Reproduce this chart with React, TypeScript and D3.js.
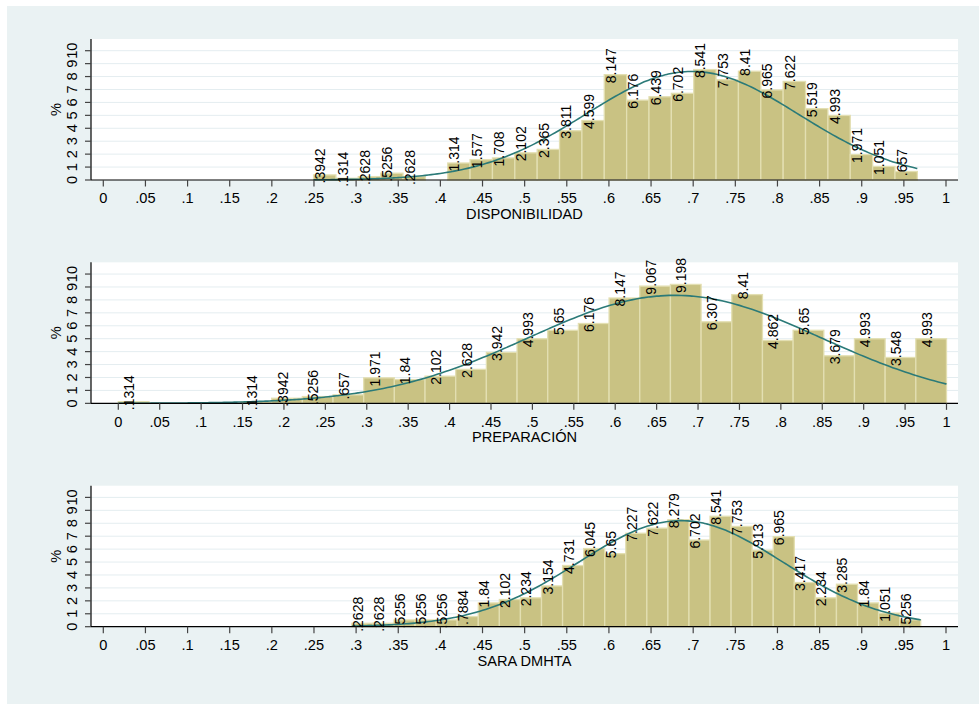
import * as React from "react"
import * as d3 from "d3"

const disponibilidad = [
    0.3942, 0.1314, 0.2628, 0.5256, 0.2628, 0, 1.314, 1.577, 1.708, 2.102, 2.365, 3.811, 4.599, 8.147,
    6.176, 6.439, 6.702, 8.541, 7.753, 8.41, 6.965, 7.622, 5.519, 4.993, 1.971, 1.051, 0.657,
]
const preparacion = [
    0.1314, 0, 0, 0, 0.1314, 0.3942, 0.5256, 0.657, 1.971, 1.84, 2.102, 2.628, 3.942, 4.993,
    5.65, 6.176, 8.147, 9.067, 9.198, 6.307, 8.41, 4.862, 5.65, 3.679, 4.993, 3.548, 4.993,
]
const sara = [
    0.2628, 0.2628, 0.5256, 0.5256, 0.5256, 0.7884, 1.84, 2.102, 2.234, 3.154, 4.731, 6.045, 5.65, 7.227,
    7.622, 8.279, 6.702, 8.541, 7.753, 5.913, 6.965, 3.417, 2.234, 3.285, 1.84, 1.051, 0.5256,
]
const series = [disponibilidad, preparacion, sara]
const titles = ["DISPONIBILIDAD", "PREPARACIÓN", "SARA DMHTA"]
// data min / max of each variable (bin range)
const lows = [0.2495, 0, 0.295]
const highs = [0.966, 1, 0.970]

const xTicks = [0, 0.05, 0.1, 0.15, 0.2, 0.25, 0.3, 0.35, 0.4, 0.45, 0.5, 0.55, 0.6, 0.65, 0.7, 0.75, 0.8, 0.85, 0.9, 0.95, 1]
const yTicks = [0, 1, 2, 3, 4, 5, 6, 7, 8, 9, 10]

const [W, H] = [979, 704]
const [plotL, plotR] = [91, 958]
const [plotTop0, zero0, step] = [39, 180, 223.35]
const xRanges: [number, number][] = [[103.3, 946], [118.3, 946.5], [103.3, 946]]
const font = "'Liberation Sans', Arial, Helvetica, sans-serif"
const fs = 14.6
const fsLab = 14
const barFill = "#c9c283"
const barLine = "#e3dfb2"
const curveColor = "#2b7a78"

const fmt = (v: number) => String(+v.toFixed(4)).replace(/^0\./, ".")

const Panel = ({ k }: { k: number }) => {
    const values = series[k]
    const [lo, hi] = [lows[k], highs[k]]
    const bw = (hi - lo) / values.length
    const top = plotTop0 + k * step
    const zero = zero0 + k * step

    const x = d3.scaleLinear().domain([0, 1]).range(xRanges[k])
    const y = d3.scaleLinear().domain([0, 10]).range([zero, zero - 129.3])

    const mids = values.map((_, i) => lo + (i + 0.5) * bw)
    const mean = d3.sum(values, (p, i) => p * mids[i]) / d3.sum(values)
    const sd = Math.sqrt(d3.sum(values, (p, i) => p * (mids[i] - mean) ** 2) / d3.sum(values))
    const dens = (v: number) => (100 * bw * Math.exp(-0.5 * ((v - mean) / sd) ** 2)) / (sd * Math.sqrt(2 * Math.PI))
    const curvePts = d3.range(0, 201).map(i => lo + (i / 200) * (hi - lo))
    const line = d3.line<number>().x(v => x(v)).y(v => y(dens(v))).curve(d3.curveBasis)

    return (
        <g>
            <rect x={plotL} y={top} width={plotR - plotL} height={zero - top} fill="white" />
            {yTicks.slice(1).map(t => (
                <line key={t} x1={plotL} x2={plotR} y1={y(t)} y2={y(t)} stroke="#e4edf0" strokeWidth={1} />
            ))}
            {values.map((p, i) =>
                p > 0 ? (
                    <rect
                        key={i}
                        x={x(lo + i * bw)}
                        y={y(p)}
                        width={x(lo + (i + 1) * bw) - x(lo + i * bw)}
                        height={zero - y(p)}
                        fill={barFill}
                        stroke={barLine}
                        strokeWidth={1.3}
                    />
                ) : null
            )}
            <path d={line(curvePts) ?? ""} fill="none" stroke={curveColor} strokeWidth={1.6} />
            {values.map((p, i) => {
                if (p <= 0) return null
                const cx = x(mids[i]) + 0.5
                const cy = y(p) - 9
                return (
                    <text key={i} transform={`translate(${cx},${cy}) rotate(-90)`} textAnchor="middle"
                        fontSize={fsLab} fontFamily={font} fill="black">
                        {fmt(p)}
                    </text>
                )
            })}
            {/* axes */}
            <line x1={plotL} x2={plotL} y1={top} y2={zero} stroke="black" strokeWidth={1.2} />
            <line x1={plotL} x2={plotR} y1={zero} y2={zero} stroke="black" strokeWidth={1.2} />
            {yTicks.map(t => (
                <g key={t}>
                    <line x1={plotL - 6} x2={plotL} y1={y(t)} y2={y(t)} stroke="#444" strokeWidth={1.2} />
                    <text transform={`translate(77,${y(t)}) rotate(-90)`} textAnchor="middle"
                        fontSize={fs} fontFamily={font} fill="black">{t}</text>
                </g>
            ))}
            <text transform={`translate(60.5,${(top + zero) / 2}) rotate(-90)`} textAnchor="middle"
                fontSize={fs} fontFamily={font} fill="black">%</text>
            {xTicks.map(t => (
                <g key={t}>
                    <line x1={x(t)} x2={x(t)} y1={zero} y2={zero + 6.5} stroke="#444" strokeWidth={1.2} />
                    <text x={x(t)} y={zero + 23.3} textAnchor="middle" fontSize={fs} fontFamily={font} fill="black">
                        {fmt(t)}
                    </text>
                </g>
            ))}
            <text x={(plotL + plotR) / 2} y={zero + 39} textAnchor="middle" fontSize={fs} fontFamily={font} fill="black">
                {titles[k]}
            </text>
        </g>
    )
}

export default function App() {
    return (
        <div style={{ position: "absolute", left: 0, top: 0 }}>
            <svg width={W} height={H} style={{ display: "block" }}>
                <rect x={0} y={0} width={W} height={H} fill="white" />
                <rect x={7} y={6} width={W - 7} height={H - 6} fill="#eaf2f3" />
                {series.map((_, k) => <Panel key={k} k={k} />)}
            </svg>
        </div>
    )
}
